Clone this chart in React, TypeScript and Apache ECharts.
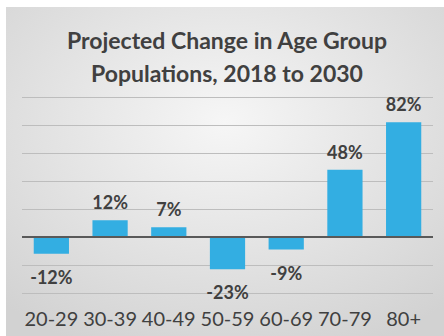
import React, { useEffect, useRef } from "react";
import * as echarts from "echarts";

const categories = ["20-29", "30-39", "40-49", "50-59", "60-69", "70-79", "80+"];
const changes = [-12, 12, 7, -23, -9, 48, 82];
const yMin = -40;
const yMax = 100;
const yStep = 20;

const TEXT = "#404040";
const FONT = "Lato, 'Open Sans', sans-serif";

export default function App() {
  const ref = useRef<HTMLDivElement>(null);
  useEffect(() => {
    if (!ref.current) return;
    const chart = echarts.init(ref.current, null, { renderer: "svg" });
    chart.setOption({
      animation: false,
      backgroundColor: "#ffffff",
      graphic: [
        {
          type: "rect",
          z: -10,
          silent: true,
          shape: { x: 6, y: 7, width: 438, height: 329 },
          style: {
            fill: new echarts.graphic.RadialGradient(0.5, 0.35, 0.75, [
              { offset: 0, color: "#f6f6f6" },
              { offset: 1, color: "#d2d2d2" },
            ]),
          },
        },
        {
          type: "text",
          left: 227 - 165,
          top: 23,
          style: {
            text: "Projected Change in Age Group\nPopulations, 2018 to 2030",
            fill: TEXT,
            font: `bold 23px ${FONT}`,
            textAlign: "center",
            lineHeight: 33,
            width: 330,
          },
        },
      ],
      grid: { left: 22, right: 11, top: 97, bottom: 43 },
      xAxis: {
        type: "category",
        data: categories,
        axisLine: { show: false },
        axisTick: { show: false },
        axisLabel: { color: TEXT, fontSize: 20, fontFamily: FONT, margin: 15, interval: 0 },
      },
      yAxis: {
        type: "value",
        min: yMin,
        max: yMax,
        interval: yStep,
        axisLabel: { show: false },
        axisLine: { show: false },
        axisTick: { show: false },
        splitLine: { lineStyle: { color: "#bdbdbd", width: 1 } },
      },
      series: [
        {
          type: "bar",
          barWidth: "60%",
          itemStyle: { color: "#33aee2" },
          data: changes.map((v) => ({
            value: v,
            label: {
              show: true,
              position: v < 0 ? "bottom" : "top",
              distance: v < 0 ? 14 : 9,
              formatter: "{c}%",
              color: TEXT,
              fontWeight: "bold",
              fontSize: 18,
              fontFamily: FONT,
            },
          })),
          markLine: {
            silent: true,
            symbol: "none",
            label: { show: false },
            lineStyle: { color: "#595959", width: 2, type: "solid" },
            data: [{ yAxis: 0 }],
          },
        },
      ],
    });
    return () => chart.dispose();
  }, []);
  return (
    <div
      ref={ref}
      style={{ position: "absolute", left: 0, top: 0, width: 444, height: 336 }}
    />
  );
}
